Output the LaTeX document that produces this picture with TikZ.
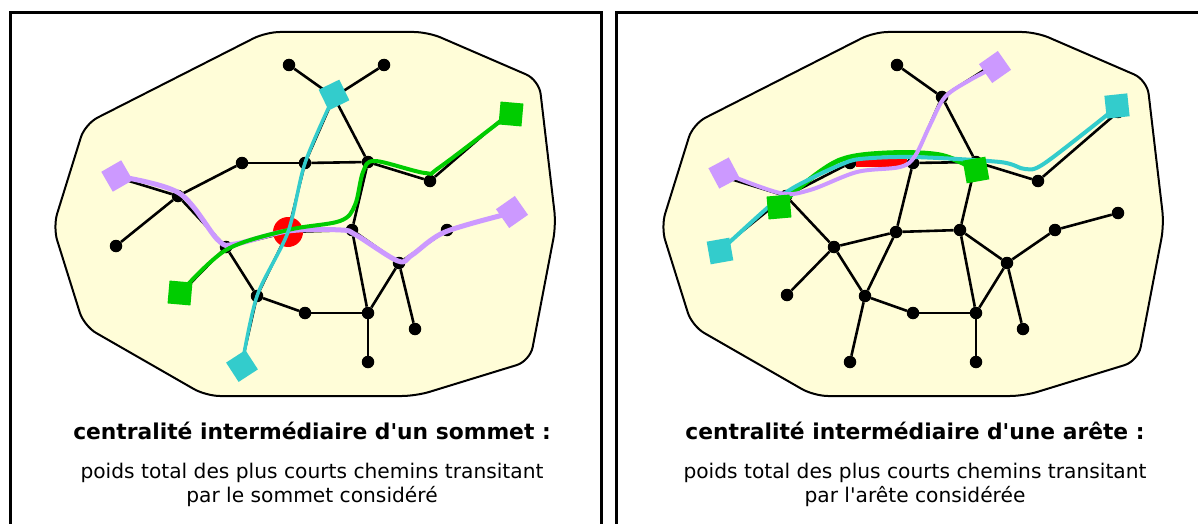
\documentclass[tikz,border=0pt]{standalone}
\usepackage{fontspec}
\setmainfont{DejaVu Sans}
\definecolor{blobfill}{RGB}{255,253,216}
\definecolor{pcyan}{RGB}{51,204,204}
\definecolor{pgreen}{RGB}{0,204,0}
\definecolor{ppurple}{RGB}{204,153,255}
\definecolor{pred}{RGB}{255,0,0}
\tikzset{
  dot/.style={circle, fill=black, minimum size=12.5pt, inner sep=0pt},
  edge/.style={line width=2.6pt, black},
  blob/.style={draw=black, line width=2pt, fill=blobfill, rounded corners=14pt},
  panel/.style={draw=black, line width=3pt},
  sq/.style={rectangle, minimum size=23pt, inner sep=0pt},
  cpath/.style={line width=4pt, line cap=round, line join=round},
  title/.style={font=\fontsize{21.8}{26}\selectfont\bfseries, anchor=base},
  sub/.style={font=\fontsize{20.2}{24}\selectfont, align=center, anchor=north},
}
\newcommand\graphbody[1]{%
  \draw[blob] (266,32) -- (428,32) -- (539,80) -- (556,225) -- (530,361) -- (416,396) -- (206,396) -- (84,326) -- (53,227) -- (85,124) -- cycle;
  \node[dot] (#1n1) at (289,65) {};
  \node[dot] (#1n2) at (384,65) {};
  \node[dot] (#1n3) at (334,97) {};
  \node[dot] (#1n4) at (242,163) {};
  \node[dot] (#1n5) at (305,163) {};
  \node[dot] (#1n6) at (368,162) {};
  \node[dot] (#1n7) at (430,181) {};
  \node[dot] (#1n8) at (510,112) {};
  \node[dot] (#1n9) at (116,177) {};
  \node[dot] (#1n10) at (178,196) {};
  \node[dot] (#1n11) at (116,246) {};
  \node[dot] (#1n12) at (226,247) {};
  \node[dot] (#1n13) at (288,232) {};
  \node[dot] (#1n14) at (352,230) {};
  \node[dot] (#1n15) at (447,230) {};
  \node[dot] (#1n16) at (510,213) {};
  \node[dot] (#1n17) at (399,263) {};
  \node[dot] (#1n18) at (179,295) {};
  \node[dot] (#1n19) at (257,296) {};
  \node[dot] (#1n20) at (305,313) {};
  \node[dot] (#1n21) at (368,313) {};
  \node[dot] (#1n22) at (415,329) {};
  \node[dot] (#1n23) at (242,362) {};
  \node[dot] (#1n24) at (368,362) {};
  \draw[edge] (#1n1) -- (#1n3);
  \draw[edge] (#1n2) -- (#1n3);
  \draw[edge] (#1n3) -- (#1n5);
  \draw[edge] (#1n3) -- (#1n6);
  \draw[edge] (#1n4) -- (#1n5);
  \draw[edge] (#1n5) -- (#1n6);
  \draw[edge] (#1n4) -- (#1n10);
  \draw[edge] (#1n9) -- (#1n10);
  \draw[edge] (#1n10) -- (#1n11);
  \draw[edge] (#1n10) -- (#1n12);
  \draw[edge] (#1n6) -- (#1n7);
  \draw[edge] (#1n7) -- (#1n8);
  \draw[edge] (#1n5) -- (#1n13);
  \draw[edge] (#1n6) -- (#1n14);
  \draw[edge] (#1n12) -- (#1n13);
  \draw[edge] (#1n13) -- (#1n14);
  \draw[edge] (#1n12) -- (#1n18);
  \draw[edge] (#1n12) -- (#1n19);
  \draw[edge] (#1n13) -- (#1n19);
  \draw[edge] (#1n19) -- (#1n20);
  \draw[edge] (#1n20) -- (#1n21);
  \draw[edge] (#1n19) -- (#1n23);
  \draw[edge] (#1n14) -- (#1n17);
  \draw[edge] (#1n14) -- (#1n21);
  \draw[edge] (#1n17) -- (#1n15);
  \draw[edge] (#1n15) -- (#1n16);
  \draw[edge] (#1n17) -- (#1n21);
  \draw[edge] (#1n17) -- (#1n22);
  \draw[edge] (#1n21) -- (#1n24);
}
\begin{document}
\begin{tikzpicture}[x=1pt, y=-1pt]
\useasboundingbox (0,0) rectangle (1198,524);
\clip (0,0) rectangle (1198,524);
\fill[white] (0,0) rectangle (1198,524);
\draw[panel] (10,12.5) rectangle (601.5,545);
\draw[panel] (616.5,12.5) rectangle (1208,545);

% ---------- left panel: vertex betweenness
\begin{scope}
\graphbody{L}
\node[circle, fill=pred, minimum size=30pt, inner sep=0pt] (Lred) at (288,232) {};
\draw[cpath, ppurple, line width=5pt] plot[smooth, tension=0.55] coordinates {(116,176) (179,193) (218,240) (235,244) (288,231) (341,230) (356,235) (398,261) (412,255) (445,232) (511,213)};
\draw[cpath, pgreen] plot[smooth, tension=0.55] coordinates {(180,293) (226,250) (288,230) (340,221) (355,205) (363,172) (375,161) (425,173) (440,167) (511,113)};
\draw[cpath, pcyan, line width=3.5pt] plot[smooth, tension=0.5] coordinates {(334,96) (305,163) (288,232) (257,296) (242,365)};
\node[sq, fill=pcyan, rotate=26] (Lc1) at (334,95) {};
\node[sq, fill=pcyan, rotate=33] (Lc2) at (242,366) {};
\node[sq, fill=pgreen, rotate=-5] (Lg1) at (511,114) {};
\node[sq, fill=pgreen, rotate=-5] (Lg2) at (180,293) {};
\node[sq, fill=ppurple, rotate=30] (Lp1) at (117,176) {};
\node[sq, fill=ppurple, rotate=35] (Lp2) at (512,212) {};
\end{scope}

% ---------- right panel: edge betweenness
\begin{scope}[xshift=608pt]
\graphbody{R}
\draw[pred, line width=8pt] (Rn4) -- (Rn5);
\draw[cpath, pgreen, line width=5pt] plot[smooth, tension=0.55] coordinates {(171,207) (192,187) (232,160) (279,153) (332,155) (369,170)};
\draw[cpath, pcyan] plot[smooth, tension=0.5] coordinates {(112,251) (172,197) (202,179) (232,165) (252,159) (305,157) (392,162) (417,169) (437,163) (509,107)};
\draw[cpath, ppurple] plot[smooth, tension=0.55] coordinates {(116,173) (172,193) (202,190) (249,172) (292,167) (307,156) (322,125) (337,97) (362,80) (387,67)};
\node[sq, fill=ppurple, rotate=28] (Rp1) at (116,173) {};
\node[sq, fill=pgreen, rotate=5] (Rg1) at (171,207) {};
\node[sq, fill=pcyan, rotate=10] (Rc1) at (112,251) {};
\node[sq, fill=pgreen, rotate=10] (Rg2) at (368,170) {};
\node[sq, fill=pcyan, rotate=6] (Rc2) at (509,106) {};
\node[sq, fill=ppurple, rotate=35] (Rp2) at (387,67) {};
\end{scope}

% ---------- texts
\node[title] (t1) at (312,439) {centralité intermédiaire d\textquotesingle un sommet :};
\node[sub] (s1) at (312,460) {poids total des plus courts chemins transitant\\par le sommet considéré};
\node[title] (t2) at (915,439) {centralité intermédiaire d\textquotesingle une arête :};
\node[sub] (s2) at (915,460) {poids total des plus courts chemins transitant\\par l\textquotesingle arête considérée};
\end{tikzpicture}
\end{document}
